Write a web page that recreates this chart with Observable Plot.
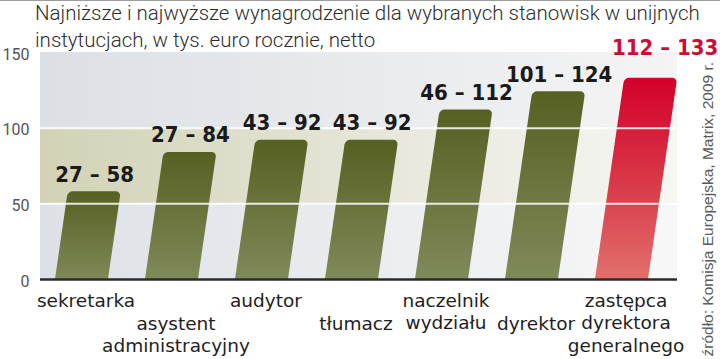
<!DOCTYPE html>
<html>
<head>
<meta charset="utf-8">
<script src="https://cdn.jsdelivr.net/npm/d3@7"></script>
<script src="https://cdn.jsdelivr.net/npm/@observablehq/plot@0.6"></script>
<style>
  html, body { margin: 0; padding: 0; background: #fff; }
  #wrap { position: relative; width: 720px; height: 359px; overflow: hidden; }
  #topline { position: absolute; left: 0; top: 0; width: 720px; height: 1px; background: #9c9c9c; }
  #title { position: absolute; left: 35px; top: 0; width: 680px; font-family: Roboto, "Noto Sans", sans-serif; font-weight: 300; font-size: 20.5px; line-height: 27px; color: #2e2e2e; white-space: nowrap; }
  #chart { position: absolute; left: 0; top: 0; }
</style>
</head>
<body>
<div id="wrap">
  <div id="chart"></div>
  <div id="title">Najniższe i najwyższe wynagrodzenie dla wybranych stanowisk w unijnych<br>instytucjach, w tys. euro rocznie, netto</div>
  <div id="topline"></div>
</div>
<script>
// ---- data ----
const categories = ["sekretarka", "asystent administracyjny", "audytor", "tłumacz", "naczelnik wydziału", "dyrektor", "zastępca dyrektora generalnego"];
const labelLines = [["sekretarka"], ["asystent", "administracyjny"], ["audytor"], ["tłumacz"], ["naczelnik", "wydziału"], ["dyrektor"], ["zastępca", "dyrektora", "generalnego"]];
const labelRow = [0, 1, 0, 1, 0, 1, 0];
const minValues = [27, 27, 43, 43, 46, 101, 112];
const maxValues = [58, 84, 92, 92, 112, 124, 133];
const highlighted = [false, false, false, false, false, false, true];
const yTicks = [0, 50, 100, 150];
const backgroundBands = [[0, 50], [50, 100], [100, 150]];
const gridValues = [50, 100];
const sourceText = "źródło: Komisja Europejska, Matrix, 2009 r.";

const rows = categories.map((cat, i) => ({
  cat, min: minValues[i], max: maxValues[i], hi: highlighted[i],
  lines: labelLines[i], row: labelRow[i]
}));

// ---- layout ----
const W = 720, H = 359;
const mt = 52, mb = 80, ml = 40, mr = 43;
const y0 = H - mb;
const k = 0.145; // slant of the bars
const skewDeg = Math.atan(k) * 180 / Math.PI;

const OLIVE = "url(#gOlive)", RED = "url(#gRed)";
const VAL_OLIVE = "#1a1a1a", VAL_RED = "#cc0c36";

const defsMark = () => {
  const ns = "http://www.w3.org/2000/svg";
  const g = document.createElementNS(ns, "g");
  g.innerHTML = `
  <defs>
    <linearGradient id="gOlive" x1="0" y1="0" x2="0" y2="1">
      <stop offset="0" stop-color="#566022"/>
      <stop offset="1" stop-color="#828b5b"/>
    </linearGradient>
    <linearGradient id="gRed" x1="0" y1="0" x2="0" y2="1">
      <stop offset="0" stop-color="#d4002b"/>
      <stop offset="0.5" stop-color="#d83848"/>
      <stop offset="1" stop-color="#e2736f"/>
    </linearGradient>
    <linearGradient id="bg0" x1="0" y1="0" x2="1" y2="0">
      <stop offset="0" stop-color="#dde1e6"/>
      <stop offset="1" stop-color="#f7f7f7"/>
    </linearGradient>
    <linearGradient id="bg1" x1="0" y1="0" x2="1" y2="0">
      <stop offset="0" stop-color="#d1d2b5"/>
      <stop offset="0.6" stop-color="#e9e9df"/>
      <stop offset="1" stop-color="#f6f6f3"/>
    </linearGradient>
    <linearGradient id="bg2" x1="0" y1="0" x2="1" y2="0">
      <stop offset="0" stop-color="#dce0e5"/>
      <stop offset="1" stop-color="#f4f4f4"/>
    </linearGradient>
    <clipPath id="belowBase"><rect x="-2000" y="-2000" width="5000" height="${2000 + y0}"/></clipPath>
  </defs>`;
  return g;
};

const olive = rows.filter(d => !d.hi);
const red = rows.filter(d => d.hi);

const plot = Plot.plot({
  width: W, height: H,
  marginTop: mt, marginBottom: mb, marginLeft: ml, marginRight: mr,
  x: { domain: categories, paddingInner: 0.414, paddingOuter: 0.2265, align: 0.33, axis: null },
  y: { domain: [0, 150], axis: null },
  style: { fontFamily: "DejaVu Sans", background: "transparent", overflow: "visible" },
  marks: [
    defsMark,
    ...backgroundBands.map((b, i) => Plot.rect([b], { y1: d => d[0], y2: d => d[1], fill: `url(#bg${i})` })),
    Plot.barY(olive, { x: "cat", y: "max", fill: OLIVE, rx: 5, insetBottom: -6 }),
    Plot.barY(red, { x: "cat", y: "max", fill: RED, rx: 5, insetBottom: -6 }),
    Plot.ruleY(gridValues, { stroke: "#ffffff", strokeWidth: 2, strokeOpacity: 0.85 }),
    Plot.ruleY([0], { stroke: "#2b2b2b", strokeWidth: 2.5 }),
    Plot.text(yTicks, { y: d => d, text: d => String(d), frameAnchor: "left", textAnchor: "end", dx: -11, dy: 2, fontSize: 16, fill: "#555", fontFamily: "Roboto" }),
    Plot.text(olive, { x: "cat", y: "max", text: d => `${d.min} – ${d.max}`, lineAnchor: "bottom", dy: -10, fontSize: 22, fontWeight: "bold", fontFamily: "DejaVu Sans Condensed", fill: VAL_OLIVE }),
    Plot.text(red, { x: "cat", y: "max", text: d => `${d.min} – ${d.max}`, lineAnchor: "bottom", dx: 14, dy: -23, fontSize: 22, fontWeight: "bold", fontFamily: "DejaVu Sans Condensed", fill: VAL_RED }),
    Plot.text(rows.filter(d => d.row === 0), { x: "cat", text: d => d.lines.join("\n"), frameAnchor: "bottom", lineAnchor: "top", lineHeight: 1.2, dx: 4, dy: 12, fontSize: 18.5, fill: "#1e1e1e", fontFamily: "DejaVu Sans" }),
    Plot.text(rows.filter(d => d.row === 1), { x: "cat", text: d => d.lines.join("\n"), frameAnchor: "bottom", lineAnchor: "top", lineHeight: 1.2, dx: 4, dy: 35, fontSize: 18.5, fill: "#1e1e1e", fontFamily: "DejaVu Sans" }),
    Plot.text([sourceText], { text: d => d, frameAnchor: "bottom-right", rotate: -90, textAnchor: "start", lineAnchor: "middle", dx: 31, dy: 77, fontSize: 15.5, fill: "#5a5a5a", fontFamily: "Liberation Sans" })
  ]
});

document.getElementById("chart").appendChild(plot);

// slant the bars around the baseline
const ns = "http://www.w3.org/2000/svg";
for (const fill of [OLIVE, RED]) {
  const g = plot.querySelector(`g[fill="${fill}"]`);
  if (!g) continue;
  const wrapper = document.createElementNS(ns, "g");
  wrapper.setAttribute("transform", `translate(${k * y0},0) skewX(${-skewDeg})`);
  wrapper.setAttribute("clip-path", "url(#belowBase)");
  g.parentNode.insertBefore(wrapper, g);
  wrapper.appendChild(g);
}
// move value labels to the slanted bar tops
for (const fill of [VAL_OLIVE, VAL_RED]) {
  const g = plot.querySelector(`g[fill="${fill}"]`);
  if (!g) continue;
  g.querySelectorAll("text").forEach(t => {
    const tr = t.getAttribute("transform");
    const m = tr && tr.match(/translate\(([-\d.e]+),\s*([-\d.e]+)\)/);
    if (m) {
      const x = +m[1], y = +m[2];
      t.setAttribute("transform", tr.replace(m[0], `translate(${x + k * (y0 - y)},${y})`));
    } else if (t.hasAttribute("x")) {
      const x = +t.getAttribute("x"), y = +t.getAttribute("y");
      t.setAttribute("x", x + k * (y0 - y));
    }
  });
}
</script>
</body>
</html>
